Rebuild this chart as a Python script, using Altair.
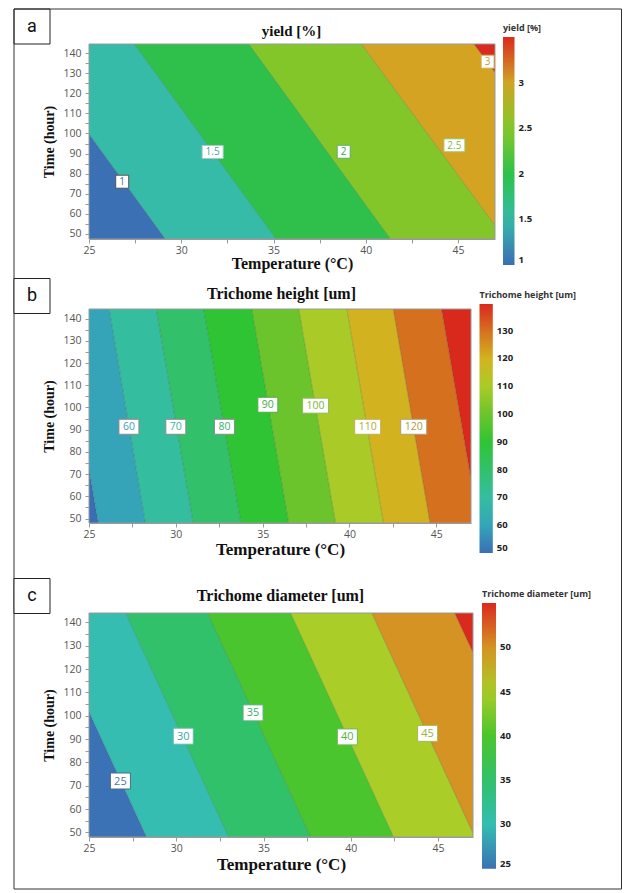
import altair as alt
import pandas as pd

# ---------------- data ----------------
TEMP_DOMAIN = [25, 47]
X_TICKS = [25, 27.5, 30, 32.5, 35, 37.5, 40, 42.5, 45]
Y_TICKS = [50, 55, 60, 65, 70, 75, 80, 85, 90, 95, 100, 105, 110, 115, 120, 125, 130, 135, 140]

# panel a : yield [%]
A_TIME_DOMAIN = [47.5, 144.5]
A_LEVELS = [1, 1.5, 2, 2.5, 3]
A_TEMP_AT_48 = [29.1, 35.1, 41.3, 47.5, 53.6]
A_TEMP_AT_144 = [21.5, 27.5, 33.7, 39.8, 45.9]
A_BAND_COLORS = ["#3b70b4", "#35bba8", "#2ec04a", "#82c62a", "#d3a321", "#d92b1f"]
A_LABELS = ["1", "1.5", "2", "2.5", "3"]
A_LABEL_TEMP = [26.8, 31.7, 38.8, 44.8, 46.6]
A_LABEL_TIME = [76.0, 90.8, 90.9, 94.1, 135.7]
A_LABEL_TEXT = ["#50708f", "#3aaaa0", "#37a851", "#8bb840", "#c8a035"]
A_LABEL_EDGE = ["#555555", "#a9c9c2", "#5cb06a", "#9cc462", "#cdae55"]
A_LEGEND_STOPS = [1, 1.5, 2, 2.5, 3, 3.5]
A_LEGEND_COLORS = ["#3b6db5", "#35bba8", "#2ec248", "#84c82a", "#cfa424", "#dc2a1e"]
A_LEGEND_VALUES = [1, 1.5, 2, 2.5, 3]

# panel b : Trichome height [um]
B_TIME_DOMAIN = [48.0, 144.3]
B_LEVELS = [50, 60, 70, 80, 90, 100, 110, 120, 130]
B_TEMP_AT_48 = [25.54, 28.25, 31.0, 33.75, 36.5, 39.2, 41.96, 44.64, 47.44]
B_TEMP_AT_144 = [23.4, 26.17, 28.88, 31.61, 34.38, 37.09, 39.86, 42.53, 45.31]
B_BAND_COLORS = ["#3a6db4", "#36a4b8", "#35bda0", "#32c16a", "#2ec434",
                 "#6bc42b", "#aacb27", "#d3b220", "#d5701f", "#d9291c"]
B_LABELS = ["60", "70", "80", "90", "100", "110", "120"]
B_LABEL_TEMP = [27.3, 30.0, 32.8, 35.3, 38.05, 41.05, 43.7]
B_LABEL_TIME = [91.3, 91.3, 91.3, 101.2, 100.8, 91.3, 91.3]
B_LABEL_TEXT = ["#3fa0b0", "#3ab296", "#3bb26e", "#3fb040", "#86b43a", "#b0ab35", "#a99a45"]
B_LABEL_EDGE = ["#8a8a8a", "#8a8a8a", "#8a8a8a", "#4cae48", "#8cbc50", "#c0b050", "#b0a070"]
B_LEGEND_STOPS = [50, 60, 70, 80, 90, 100, 110, 120, 130, 139.6]
B_LEGEND_COLORS = ["#3b6fb5", "#35a5b8", "#35bda0", "#31c16a", "#2ec534",
                   "#6cc52b", "#aacb27", "#d3b220", "#d5701f", "#da281c"]
B_LEGEND_VALUES = [50, 60, 70, 80, 90, 100, 110, 120, 130]

# panel c : Trichome diameter [um]
C_TIME_DOMAIN = [48.0, 144.0]
C_LEVELS = [25, 30, 35, 40, 45, 50]
C_TEMP_AT_48 = [28.3, 33.0, 37.7, 42.45, 47.1, 51.9]
C_TEMP_AT_144 = [22.4, 27.1, 31.8, 36.55, 41.2, 45.95]
C_BAND_COLORS = ["#3b72b5", "#35bdb2", "#31c16a", "#4bc52d", "#aacd28", "#d49322", "#d92a1e"]
C_LABELS = ["25", "30", "35", "40", "45"]
C_LABEL_TEMP = [26.8, 30.4, 34.4, 39.8, 44.4]
C_LABEL_TIME = [72.0, 91.2, 101.2, 90.9, 92.4]
C_LABEL_TEXT = ["#4a78a0", "#3aa8a8", "#3aae6a", "#5ab048", "#a0b040"]
C_LABEL_EDGE = ["#4a6a90", "#6ab8b0", "#5ab47a", "#6cb85a", "#a8b850"]
C_LEGEND_STOPS = [25, 30, 35, 40, 45, 50, 55]
C_LEGEND_COLORS = ["#3b72b5", "#35bdb2", "#31c16a", "#4bc52d", "#aacd28", "#d49322", "#da2a1e"]
C_LEGEND_VALUES = [25, 30, 35, 40, 45, 50]


# ---------------- helpers ----------------
def line_at(t48, t144, t):
    return t48 + (t144 - t48) * (t - 48.0) / 96.0


def bands_frame(t48, t144, colors, ydom):
    left48, left144 = [0.0] + list(t48), [0.0] + list(t144)
    right48, right144 = list(t48) + [90.0], list(t144) + [90.0]
    rows = []
    for i, col in enumerate(colors):
        for t in ydom:
            rows.append({"band": i, "t": t,
                         "lo": line_at(left48[i], left144[i], t),
                         "hi": line_at(right48[i], right144[i], t),
                         "col": col})
    return pd.DataFrame(rows)


def lines_frame(levels, t48, t144, ydom):
    rows = []
    for lv, a, b in zip(levels, t48, t144):
        rows.append({"lv": lv, "ta": ydom[0], "tb": ydom[1],
                     "xa": line_at(a, b, ydom[0]), "xb": line_at(a, b, ydom[1])})
    return pd.DataFrame(rows)


def box_width(s, fs):
    digits = sum(ch.isdigit() for ch in s)
    dots = s.count(".")
    return int(round(digits * 0.58 * fs + dots * 0.28 * fs + 0.7 * fs))


ONE = pd.DataFrame({"k": [0]})


def panel(cfg):
    W, H, gap = cfg["W"], cfg["H"], cfg["gap"]
    ydom = cfg["ydom"]
    xaxis = alt.Axis(
        title="Temperature (°C)", values=X_TICKS,
        labelExpr="datum.value % 5 == 0 ? format(datum.value, 'd') : ''",
        labelFont="Open Sans", labelFontSize=10.5, labelColor="#555555",
        labelPadding=2, labelFlush=False, labelOverlap=False,
        tickSize=4, tickColor="#9a9a9a", domainColor="#9a9a9a", grid=False,
        titleFont="Liberation Serif", titleFontSize=cfg["xtitle_size"], titleFontWeight="bold",
        titleColor="#111111", titlePadding=cfg["xtitle_pad"])
    yaxis = alt.Axis(
        title="Time (hour)", values=Y_TICKS,
        labelExpr="datum.value % 10 == 0 ? format(datum.value, 'd') : ''",
        labelFont="Open Sans", labelFontSize=10.5, labelColor="#555555",
        labelPadding=4, labelOverlap=False, labelFlush=False,
        tickSize=4, tickColor="#9a9a9a", domainColor="#9a9a9a", grid=False,
        titleFont="Liberation Serif", titleFontSize=14, titleFontWeight="bold",
        titleColor="#111111", titlePadding=6)

    def X(f):
        return alt.X(f, type="quantitative",
                     scale=alt.Scale(domain=TEMP_DOMAIN, nice=False, zero=False), axis=xaxis)

    def Y(f):
        return alt.Y(f, type="quantitative",
                     scale=alt.Scale(domain=ydom, range=[gap + H, gap], nice=False, zero=False),
                     axis=yaxis)

    bdf = bands_frame(cfg["t48"], cfg["t144"], cfg["colors"], ydom)
    bands = alt.Chart(bdf).mark_area(orient="horizontal", clip=True).encode(
        x=X("lo"), x2=alt.X2("hi"), y=Y("t"), detail="band:N",
        fill=alt.Fill("col:N", scale=None))

    lines = alt.Chart(lines_frame(cfg["levels"], cfg["t48"], cfg["t144"], ydom)).mark_rule(
        clip=True, color="#1a3a2a", opacity=0.28, strokeWidth=0.9
    ).encode(x=X("xa"), x2=alt.X2("xb"), y=Y("ta"), y2=alt.Y2("tb"))

    frame = alt.Chart(ONE).mark_rect(fillOpacity=0, stroke="#9a9a9a", strokeWidth=1).encode(
        x=alt.value(0), x2=alt.value(W), y=alt.value(gap), y2=alt.value(gap + H))

    lab = pd.DataFrame({"lab": cfg["labels"], "T": cfg["lab_T"], "tm": cfg["lab_t"],
                        "tc": cfg["lab_text"], "ec": cfg["lab_edge"]})
    fs = cfg["lab_fs"]
    widths = [box_width(s, fs) for s in cfg["labels"]]
    layers = [bands, lines, frame]
    for w in sorted(set(widths)):
        sub = lab[[wi == w for wi in widths]]
        layers.append(alt.Chart(sub).mark_rect(width=w, height=cfg["lab_h"], fill="white",
                                               strokeWidth=1).encode(
            x=X("T"), y=Y("tm"), stroke=alt.Stroke("ec:N", scale=None)))
    layers.append(alt.Chart(lab).mark_text(font="Open Sans", fontSize=fs, align="center",
                                           baseline="middle", dy=0.5).encode(
        x=X("T"), y=Y("tm"), text="lab:N", fill=alt.Fill("tc:N", scale=None)))

    legdf = pd.DataFrame({"v": [cfg["stops"][0], cfg["stops"][-1]], "lx": [36, 36], "ly": [96, 96]})
    legend = alt.Legend(
        orient="none", legendX=cfg["legX"], legendY=cfg["legY"], direction="vertical",
        title=cfg["title"], titleFont="Open Sans", titleFontSize=9, titleFontWeight="bold",
        titleColor="#333333", titlePadding=4, titleLimit=400,
        gradientLength=cfg["legLen"], gradientThickness=cfg["legThick"], gradientStrokeWidth=0,
        values=cfg["legValues"], format="~f", labelFont="Open Sans", labelFontSize=9.5,
        labelFontWeight="bold", labelColor="#222222", labelOffset=4, labelOverlap=False,
        labelBaseline="middle", padding=0)
    layers.append(alt.Chart(legdf).mark_point(size=0, opacity=1, filled=True).encode(
        x=X("lx"), y=Y("ly"),
        color=alt.Color("v:Q", scale=alt.Scale(domain=cfg["stops"], range=cfg["legColors"],
                                               interpolate="rgb"), legend=legend)))

    layers.append(alt.Chart(ONE).mark_text(text=cfg["title"], font="Liberation Serif",
                                           fontWeight="bold", fontSize=cfg["title_size"],
                                           align="center", baseline="middle", color="#111111").encode(
        x=alt.value(cfg["title_x"]), y=alt.value(cfg["title_y"])))

    by = cfg["box_y"]
    layers.append(alt.Chart(ONE).mark_rect(fill="white", stroke="#222222", strokeWidth=1).encode(
        x=alt.value(-75), x2=alt.value(-39), y=alt.value(by), y2=alt.value(by + 35)))
    layers.append(alt.Chart(ONE).mark_text(text=cfg["letter"],
                                           font="Liberation Sans Narrow, Roboto, Liberation Sans",
                                           fontSize=18, align="center", baseline="middle",
                                           color="#111111").encode(
        x=alt.value(-57), y=alt.value(by + 17.5)))

    if cfg.get("outer"):
        layers.append(alt.Chart(ONE).mark_rect(fillOpacity=0, stroke="#333333", strokeWidth=1).encode(
            x=alt.value(-75), x2=alt.value(532.5), y=alt.value(-35), y2=alt.value(845)))

    return alt.layer(*layers).properties(
        width=W, height=gap + H,
        view=alt.ViewBackground(stroke="transparent", strokeWidth=0))


pa = panel(dict(W=406, H=195, gap=0, ydom=A_TIME_DOMAIN, levels=A_LEVELS, t48=A_TEMP_AT_48,
                t144=A_TEMP_AT_144, colors=A_BAND_COLORS, labels=A_LABELS, lab_T=A_LABEL_TEMP,
                lab_t=A_LABEL_TIME, lab_text=A_LABEL_TEXT, lab_edge=A_LABEL_EDGE, lab_fs=10,
                lab_h=13, stops=A_LEGEND_STOPS, legColors=A_LEGEND_COLORS,
                legValues=A_LEGEND_VALUES, legX=414, legY=-20, legLen=228, legThick=11.5,
                title="yield [%]", title_size=15, title_x=202.5, title_y=-13.5,
                xtitle_size=16, xtitle_pad=0, box_y=-35, letter="a", outer=True))

pb = panel(dict(W=382, H=214, gap=70, ydom=B_TIME_DOMAIN, levels=B_LEVELS, t48=B_TEMP_AT_48,
                t144=B_TEMP_AT_144, colors=B_BAND_COLORS, labels=B_LABELS, lab_T=B_LABEL_TEMP,
                lab_t=B_LABEL_TIME, lab_text=B_LABEL_TEXT, lab_edge=B_LABEL_EDGE, lab_fs=10.5,
                lab_h=15, stops=B_LEGEND_STOPS, legColors=B_LEGEND_COLORS,
                legValues=B_LEGEND_VALUES, legX=390.5, legY=52, legLen=249, legThick=13.3,
                title="Trichome height [um]", title_size=16, title_x=192.5, title_y=54.5,
                xtitle_size=17, xtitle_pad=2, box_y=39.5, letter="b"))

pc = panel(dict(W=384, H=224, gap=90, ydom=C_TIME_DOMAIN, levels=C_LEVELS, t48=C_TEMP_AT_48,
                t144=C_TEMP_AT_144, colors=C_BAND_COLORS, labels=C_LABELS, lab_T=C_LABEL_TEMP,
                lab_t=C_LABEL_TIME, lab_text=C_LABEL_TEXT, lab_edge=C_LABEL_EDGE, lab_fs=11,
                lab_h=16, stops=C_LEGEND_STOPS, legColors=C_LEGEND_COLORS,
                legValues=C_LEGEND_VALUES, legX=393, legY=67, legLen=265.7, legThick=14,
                title="Trichome diameter [um]", title_size=16, title_x=191.5, title_y=72.5,
                xtitle_size=17, xtitle_pad=3, box_y=55.5, letter="c"))

chart = alt.vconcat(pa, pb, pc, spacing=0, bounds="flush").resolve_scale(
    color="independent"
).properties(
    padding={"left": 5, "top": 0, "right": 0, "bottom": 0}
).configure_view(stroke="transparent", strokeWidth=0).configure(background="white")

chart.save("out.html", embed_options={"renderer": "svg", "actions": False})
